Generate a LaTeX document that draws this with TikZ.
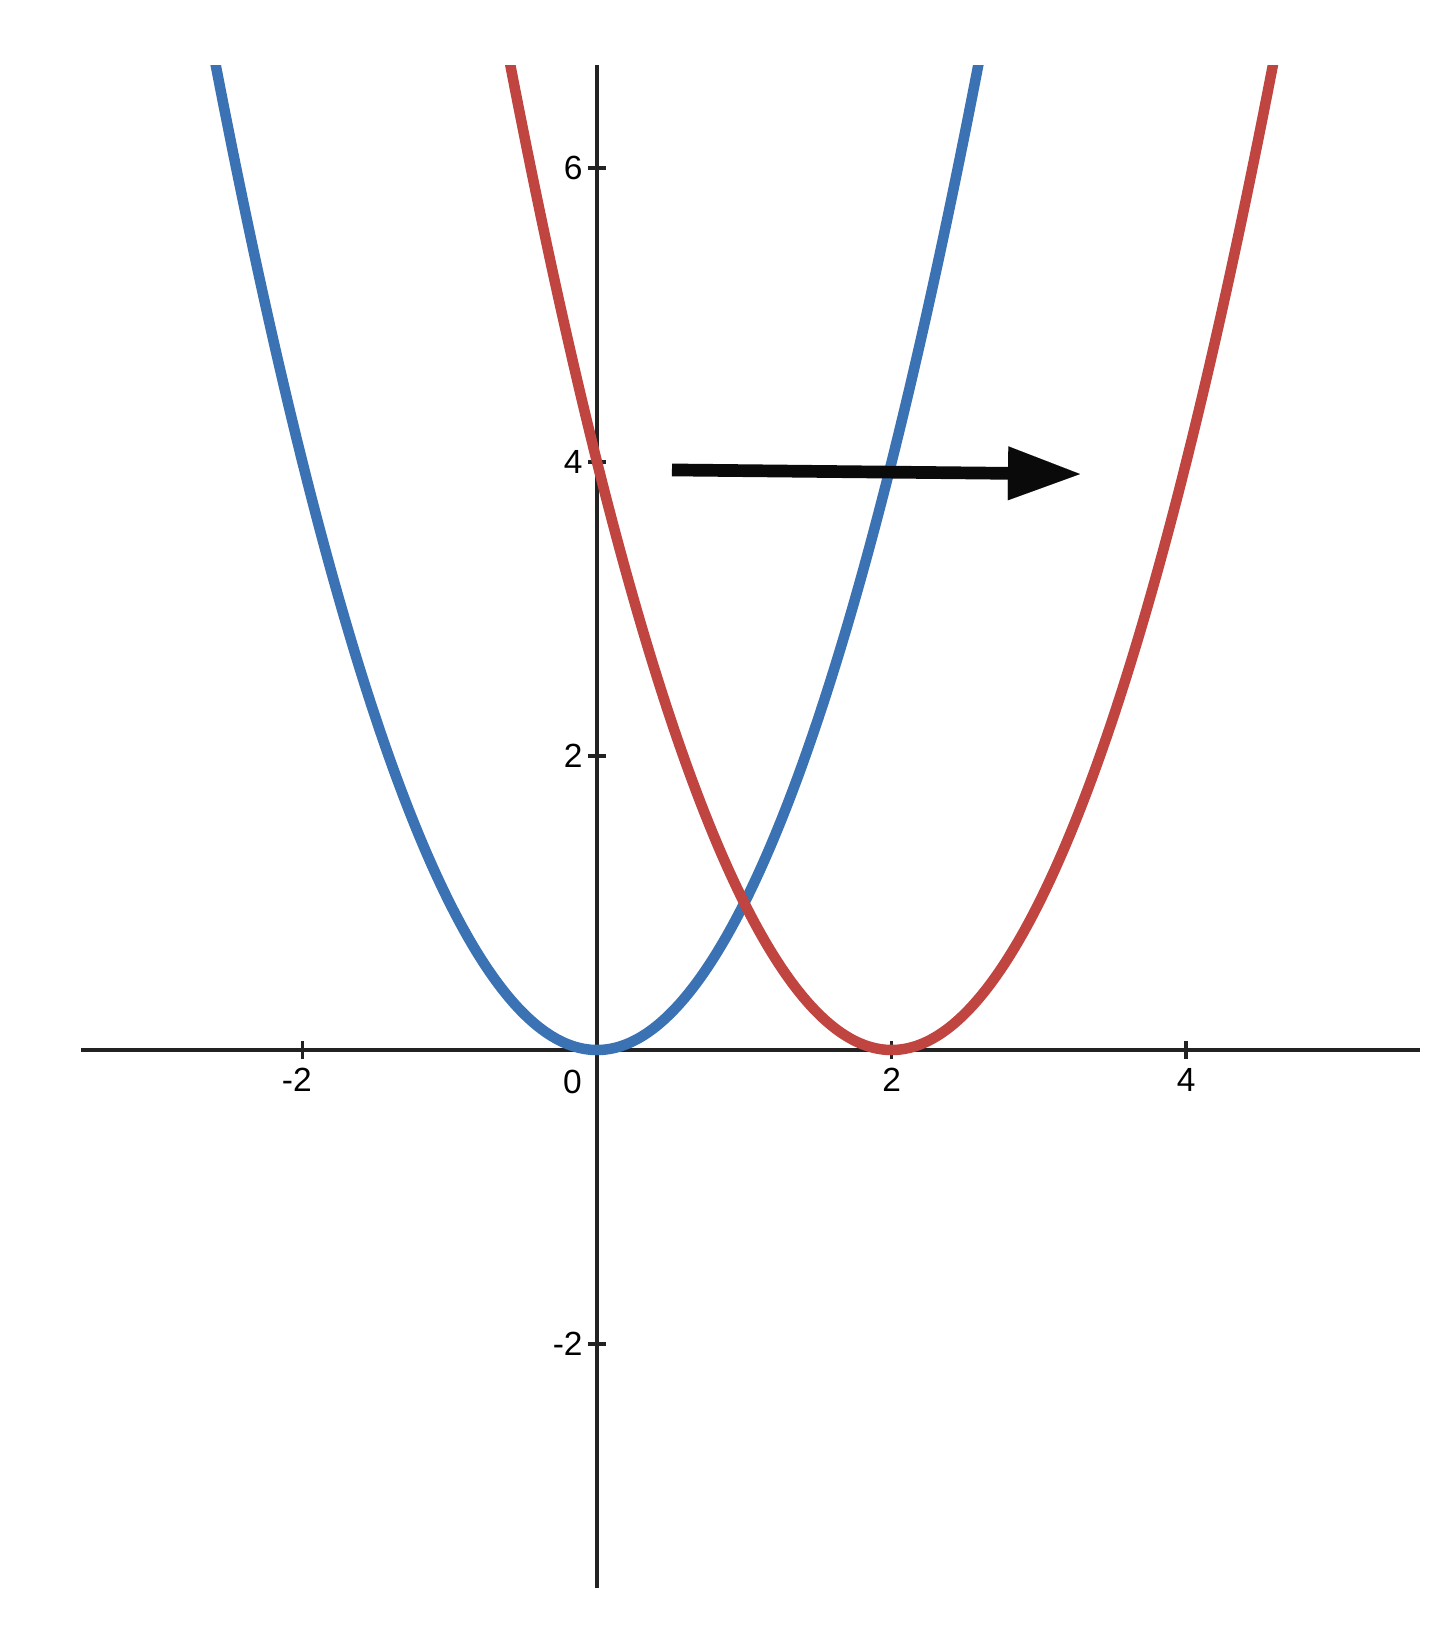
\documentclass[tikz,border=0pt]{standalone}
\usepackage{fontspec}
\setmainfont{Liberation Sans}
\usetikzlibrary{arrows.meta}
\definecolor{dblue}{RGB}{58,114,180}
\definecolor{dred}{RGB}{192,69,64}
\definecolor{axiscol}{RGB}{34,34,34}
\definecolor{arrcol}{RGB}{10,10,10}
\begin{document}
\begin{tikzpicture}[x=0.5pt,y=-0.5pt,
  axisline/.style={draw=axiscol, line width=1.75pt},
  tickline/.style={draw=axiscol, line width=1.75pt},
  curveline/.style={line width=5.25pt},
  lab/.style={font=\fontsize{16.75}{20}\selectfont, inner sep=0pt, text=black}]
\useasboundingbox[fill=white] (0,0) rectangle (1445,1625);
\begin{scope}[shift={(597,1050)}, x=73.65pt, y=73.5pt]
  % axes
  \coordinate (xl) at (-3.503,0);
  \coordinate (xr) at (5.587,0);
  \coordinate (yt) at (0,6.70);
  \coordinate (yb) at (0,-3.66);
  \draw[axisline] (xl) -- (xr);
  \draw[axisline] (yb) -- (yt);
  % x ticks
  \foreach \t in {-2,2,4} {
    \draw[tickline] (\t,-0.0612) -- (\t,0.0612);
  }
  % y ticks
  \foreach \t in {-2,2,4,6} {
    \draw[tickline] (-0.061,\t) -- (0.061,\t);
  }
  % labels
  \node[lab, anchor=north] (lxm2) at (-2,-0.122) {\llap{-}2};
  \node[lab, anchor=north] (lx2) at (2,-0.122) {2};
  \node[lab, anchor=north] (lx4) at (4,-0.122) {4};
  \node[lab, anchor=north east] (l0) at (-0.100,-0.136) {0};
  \node[lab, anchor=east] (ly6) at (-0.095,6) {6};
  \node[lab, anchor=east] (ly4) at (-0.095,4) {4};
  \node[lab, anchor=east] (ly2) at (-0.095,2) {2};
  \node[lab, anchor=east] (lym2) at (-0.095,-2) {-2};
  % curves
  \begin{scope}
    \clip (-3.6,-3.7) rectangle (5.7,6.70);
    \draw[curveline, dblue] plot[domain=-2.7:2.7, samples=150, smooth] (\x,{\x*\x});
    \draw[curveline, dred] plot[domain=-0.7:4.7, samples=150, smooth] (\x,{(\x-2)*(\x-2)});
  \end{scope}
  % arrow
  \coordinate (as) at (0.509,3.946);
  \coordinate (ae) at (3.279,3.918);
  \draw[draw=arrcol, line width=6.35pt, -{Triangle[length=36pt,width=27pt,line width=0.01pt]}] (as) -- (ae);
\end{scope}
\end{tikzpicture}
\end{document}
